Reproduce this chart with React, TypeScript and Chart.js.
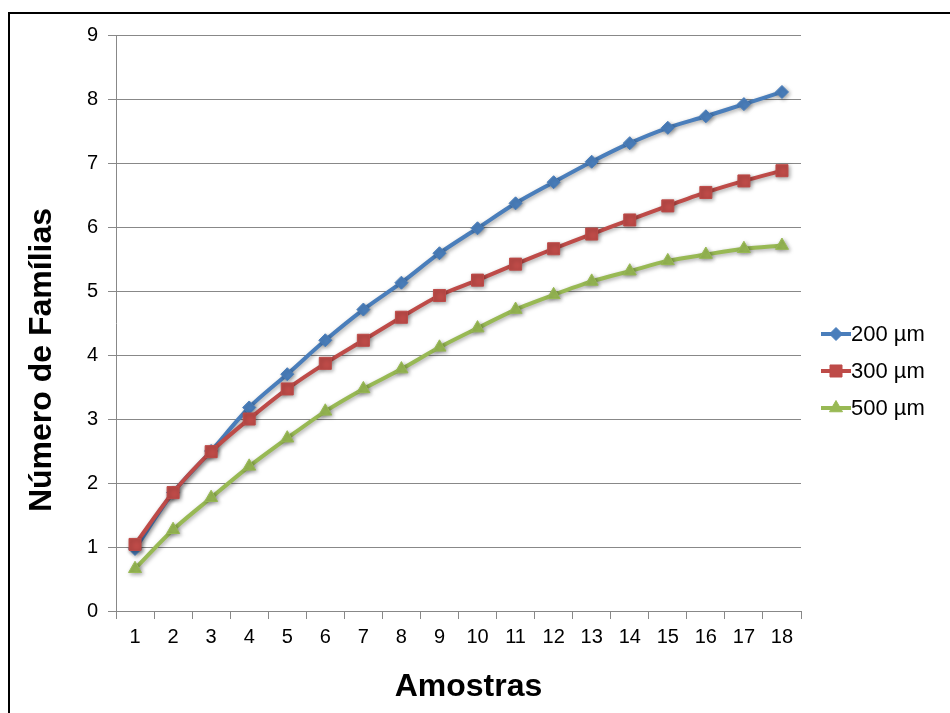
import React, { useEffect, useRef } from "react";
import { Chart, registerables } from "chart.js";
import { drawPoint } from "chart.js/helpers";

Chart.register(...registerables);

const categories = ["1", "2", "3", "4", "5", "6", "7", "8", "9", "10", "11", "12", "13", "14", "15", "16", "17", "18"];
const seriesLabels = ["200 µm", "300 µm", "500 µm"];
const s200 = [0.97, 1.85, 2.5, 3.18, 3.7, 4.23, 4.71, 5.13, 5.59, 5.98, 6.37, 6.7, 7.02, 7.31, 7.55, 7.73, 7.92, 8.11];
const s300 = [1.04, 1.85, 2.49, 3.0, 3.47, 3.87, 4.23, 4.59, 4.93, 5.17, 5.42, 5.66, 5.89, 6.11, 6.33, 6.54, 6.72, 6.88];
const s500 = [0.66, 1.27, 1.77, 2.26, 2.7, 3.12, 3.47, 3.78, 4.12, 4.42, 4.71, 4.94, 5.15, 5.31, 5.47, 5.57, 5.66, 5.71];
const yMin = 0;
const yMax = 9;
const yStep = 1;
const xTitle = "Amostras";
const yTitle = "Número de Famílias";

const FONT = "'Liberation Sans', Arial, sans-serif";
const colors = ["#4A7EBB", "#BE4B48", "#98B954"];
const pointStyles = ["rectRot", "rect", "triangle"];
const pointRadii = [6.5, 8.5, 7.5];

const shadowPlugin = {
  id: "shadowPlugin",
  beforeDatasetsDraw(chart: any) {
    const ctx = chart.ctx;
    ctx.save();
    ctx.shadowColor = "rgba(0,0,0,0.35)";
    ctx.shadowBlur = 4;
    ctx.shadowOffsetX = 1.5;
    ctx.shadowOffsetY = 1.5;
  },
  afterDatasetsDraw(chart: any) {
    chart.ctx.restore();
  },
};

const titlesPlugin = {
  id: "titlesPlugin",
  afterDraw(chart: any) {
    const ctx = chart.ctx;
    const a = chart.chartArea;
    ctx.save();
    ctx.fillStyle = "#000";
    ctx.font = `bold 32px ${FONT}`;
    ctx.textAlign = "center";
    ctx.textBaseline = "middle";
    ctx.fillText(xTitle, (a.left + a.right) / 2 + 10, a.bottom + 76);
    ctx.translate(42, (a.top + a.bottom) / 2 + 37);
    ctx.rotate(-Math.PI / 2);
    ctx.fillText(yTitle, 0, 0);
    ctx.restore();
  },
};

const legendPlugin = {
  id: "customLegend",
  afterDraw(chart: any) {
    const ctx = chart.ctx;
    const a = chart.chartArea;
    ctx.save();
    chart.data.datasets.forEach((ds: any, i: number) => {
      const y = a.top + 299 + i * 37;
      const x0 = a.right + 20;
      const x1 = a.right + 50;
      ctx.strokeStyle = ds.borderColor;
      ctx.lineWidth = 4;
      ctx.beginPath();
      ctx.moveTo(x0, y);
      ctx.lineTo(x1, y);
      ctx.stroke();
      ctx.fillStyle = ds.backgroundColor;
      ctx.strokeStyle = ds.borderColor;
      ctx.lineWidth = 1;
      drawPoint(ctx, { pointStyle: ds.pointStyle, radius: ds.pointRadius, borderWidth: 1, rotation: 0 }, (x0 + x1) / 2, y);
      ctx.fillStyle = "#000";
      ctx.font = `22px ${FONT}`;
      ctx.textAlign = "left";
      ctx.textBaseline = "middle";
      ctx.fillText(ds.label, x1, y + 1);
    });
    ctx.restore();
  },
};

export default function App() {
  const ref = useRef<HTMLCanvasElement>(null);
  useEffect(() => {
    if (!ref.current) return;
    const seriesData = [s200, s300, s500];
    const chart = new Chart(ref.current, {
      type: "line",
      data: {
        labels: categories,
        datasets: seriesData.map((d, i) => ({
          label: seriesLabels[i],
          data: d,
          borderColor: colors[i],
          backgroundColor: colors[i],
          borderWidth: 4,
          pointStyle: pointStyles[i] as any,
          pointRadius: pointRadii[i],
          pointBorderWidth: 1,
          tension: 0.3,
          order: 3 - i,
        })),
      },
      options: {
        animation: false,
        responsive: false,
        layout: { padding: { left: 0, right: 149, top: 35, bottom: 0 } },
        plugins: { legend: { display: false }, tooltip: { enabled: false } },
        scales: {
          x: {
            offset: true,
            grid: { offset: true, drawOnChartArea: false, drawTicks: true, tickLength: 8, color: "#888" },
            border: { color: "#888", width: 1 },
            ticks: { color: "#000", font: { family: FONT, size: 20 }, padding: 6, maxRotation: 0, autoSkip: false },
            afterFit: (s: any) => { s.height = 102; },
          },
          y: {
            min: yMin,
            max: yMax,
            ticks: { stepSize: yStep, color: "#000", font: { family: FONT, size: 20 }, padding: 10 },
            grid: { color: "#888", tickLength: 8 },
            border: { color: "#888", width: 1 },
            afterFit: (s: any) => { s.width = 116; },
          },
        },
      },
      plugins: [shadowPlugin, titlesPlugin, legendPlugin],
    });
    return () => chart.destroy();
  }, []);
  return (
    <div style={{ position: "fixed", left: 0, top: 0, width: 950, height: 713, background: "#fff", overflow: "hidden" }}>
      <div style={{ position: "absolute", left: 8, top: 12, width: 1000, height: 800, borderLeft: "2px solid #000", borderTop: "2px solid #000" }} />
      <canvas ref={ref} width={950} height={713} style={{ position: "absolute", left: 0, top: 0, width: 950, height: 713 }} />
    </div>
  );
}
